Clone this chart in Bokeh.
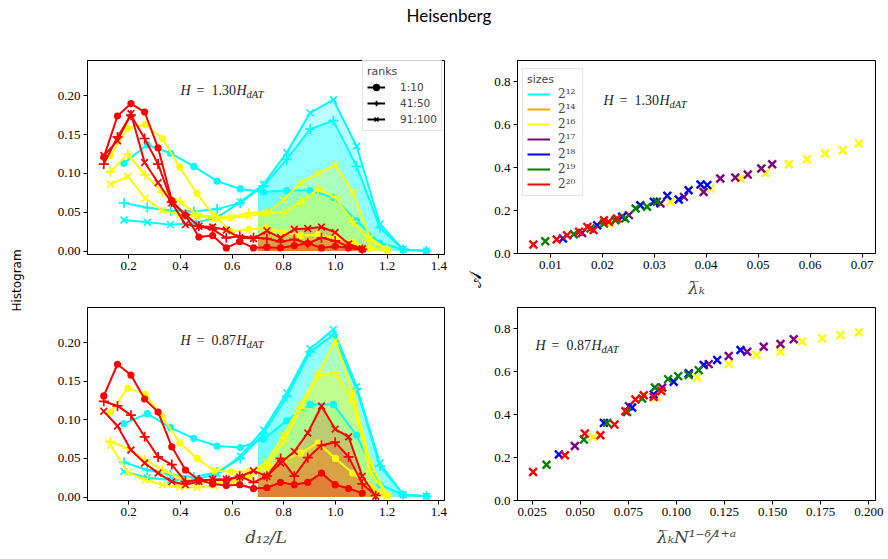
import numpy as np
from bokeh.plotting import figure
from bokeh.models import Range1d, Label, Legend, LegendItem, FixedTicker, NumeralTickFormatter
from bokeh.layouts import row, column
from bokeh.embed import file_html
from bokeh.resources import INLINE
from bokeh.core.properties import value

# ---------------- data: histograms of d12/L ----------------
x_cyan = [0.182, 0.272, 0.362, 0.452, 0.542, 0.632, 0.722, 0.812, 0.902, 0.992, 1.082, 1.172, 1.262, 1.352]
x_yellow = [0.130, 0.197, 0.264, 0.331, 0.398, 0.465, 0.531, 0.598, 0.665, 0.732, 0.799, 0.866, 0.933,
            1.000, 1.067, 1.134, 1.200]
x_red = [0.104, 0.157, 0.209, 0.262, 0.314, 0.367, 0.420, 0.472, 0.525, 0.578, 0.630, 0.683, 0.735,
         0.788, 0.841, 0.893, 0.946, 0.999, 1.051, 1.104, 1.156]

# H = 1.30 H_dAT
cyan_dot_hi = [0.113, 0.137, 0.126, 0.109, 0.090, 0.080, 0.076, 0.078, 0.078, 0.069, 0.039, 0.010, 0.002, 0.000]
cyan_plus_hi = [0.062, 0.056, 0.052, 0.051, 0.054, 0.062, 0.084, 0.118, 0.157, 0.168, 0.109, 0.030, 0.002, 0.000]
cyan_x_hi = [0.040, 0.037, 0.034, 0.036, 0.043, 0.063, 0.086, 0.127, 0.178, 0.195, 0.135, 0.035, 0.002, 0.000]
yellow_dot_hi = [0.123, 0.158, 0.163, 0.145, 0.108, 0.074, 0.045, 0.025, 0.028, 0.030, 0.024, 0.020, 0.021,
                 0.017, 0.011, 0.003, 0.001]
yellow_plus_hi = [0.102, 0.125, 0.098, 0.076, 0.064, 0.047, 0.044, 0.044, 0.049, 0.050, 0.050, 0.063, 0.080,
                  0.069, 0.038, 0.013, 0.002]
yellow_x_hi = [0.086, 0.096, 0.068, 0.052, 0.047, 0.045, 0.042, 0.043, 0.045, 0.049, 0.066, 0.088, 0.100,
               0.111, 0.076, 0.017, 0.002]
red_dot_hi = [0.121, 0.174, 0.190, 0.179, 0.133, 0.065, 0.046, 0.018, 0.020, 0.004, 0.012, 0.004, 0.005,
              0.004, 0.007, 0.010, 0.004, 0.006, 0.004, 0.002]
red_plus_hi = [0.112, 0.147, 0.175, 0.145, 0.112, 0.063, 0.047, 0.032, 0.028, 0.017, 0.019, 0.017, 0.016,
               0.012, 0.015, 0.010, 0.017, 0.013, 0.006, 0.002]
red_x_hi = [0.123, 0.142, 0.177, 0.114, 0.088, 0.062, 0.034, 0.032, 0.031, 0.027, 0.017, 0.016, 0.026,
            0.017, 0.028, 0.029, 0.031, 0.024, 0.009, 0.003]

# H = 0.87 H_dAT
cyan_dot_lo = [0.095, 0.108, 0.090, 0.076, 0.066, 0.064, 0.075, 0.099, 0.120, 0.120, 0.080, 0.016, 0.003, 0.001]
cyan_plus_lo = [0.045, 0.035, 0.029, 0.026, 0.032, 0.050, 0.082, 0.130, 0.188, 0.210, 0.140, 0.040, 0.003, 0.001]
cyan_x_lo = [0.033, 0.025, 0.022, 0.022, 0.030, 0.053, 0.087, 0.135, 0.192, 0.217, 0.143, 0.044, 0.003, 0.001]
yellow_dot_lo = [0.110, 0.141, 0.133, 0.104, 0.070, 0.050, 0.034, 0.033, 0.033, 0.040, 0.048, 0.057, 0.070,
                 0.050, 0.031, 0.013, 0.002]
yellow_plus_lo = [0.072, 0.063, 0.048, 0.035, 0.025, 0.020, 0.018, 0.020, 0.025, 0.040, 0.072, 0.115, 0.158,
                  0.161, 0.125, 0.033, 0.002]
yellow_x_lo = [0.067, 0.032, 0.022, 0.016, 0.013, 0.012, 0.015, 0.022, 0.030, 0.045, 0.080, 0.120, 0.160,
               0.202, 0.136, 0.045, 0.002]
red_dot_lo = [0.131, 0.172, 0.158, 0.127, 0.110, 0.065, 0.035, 0.022, 0.017, 0.015, 0.016, 0.011, 0.012,
              0.019, 0.016, 0.019, 0.031, 0.016, 0.011, 0.005]
red_plus_lo = [0.124, 0.118, 0.106, 0.078, 0.052, 0.042, 0.020, 0.022, 0.022, 0.022, 0.027, 0.019, 0.027,
               0.050, 0.027, 0.051, 0.067, 0.071, 0.052, 0.017, 0.002]
red_x_lo = [0.111, 0.092, 0.061, 0.044, 0.031, 0.020, 0.016, 0.020, 0.023, 0.023, 0.026, 0.034, 0.027,
            0.044, 0.059, 0.083, 0.118, 0.088, 0.078, 0.027, 0.001]

rank_labels = ["1:10", "41:50", "91:100"]
fill_from = 0.7

# ---------------- data: scaling scatter ----------------
tr_red_x = [0.0067, 0.0112, 0.0132, 0.0155, 0.0171, 0.0183, 0.0203, 0.0212, 0.0228]
tr_red_y = [0.042, 0.065, 0.085, 0.101, 0.124, 0.109, 0.155, 0.148, 0.163]
tr_green_x = [0.0090, 0.0145, 0.0177, 0.0203, 0.0225, 0.0244, 0.0264, 0.0286, 0.0305]
tr_green_y = [0.057, 0.090, 0.117, 0.140, 0.155, 0.163, 0.210, 0.218, 0.241]
tr_blue_x = [0.0124, 0.0190, 0.0238, 0.0273, 0.0299, 0.0325, 0.0347, 0.0366, 0.0389, 0.0402]
tr_blue_y = [0.070, 0.132, 0.171, 0.225, 0.241, 0.269, 0.252, 0.295, 0.322, 0.319]
tr_purple_x = [0.0161, 0.0251, 0.0312, 0.0357, 0.0395, 0.0427, 0.0456, 0.0480, 0.0506, 0.0527]
tr_purple_y = [0.096, 0.179, 0.233, 0.264, 0.287, 0.350, 0.354, 0.368, 0.396, 0.416]
tr_yellow_x = [0.0215, 0.0331, 0.0408, 0.0466, 0.0514, 0.0559, 0.0594, 0.0629, 0.0663, 0.0694]
tr_yellow_y = [0.140, 0.241, 0.303, 0.350, 0.376, 0.416, 0.440, 0.466, 0.482, 0.513]

br_red_x = [0.0255, 0.0420, 0.0524, 0.0605, 0.0678, 0.0735, 0.0787, 0.0830, 0.0882, 0.0922]
br_red_y = [0.133, 0.211, 0.312, 0.304, 0.354, 0.416, 0.471, 0.491, 0.483, 0.511]
br_green_x = [0.0325, 0.0519, 0.0640, 0.0744, 0.0822, 0.0888, 0.0957, 0.1009, 0.1064, 0.1116]
br_green_y = [0.167, 0.284, 0.362, 0.413, 0.476, 0.527, 0.566, 0.580, 0.585, 0.608]
br_blue_x = [0.0389, 0.0623, 0.0770, 0.0882, 0.0986, 0.1064, 0.1142, 0.1212, 0.1333]
br_blue_y = [0.215, 0.362, 0.434, 0.494, 0.554, 0.593, 0.632, 0.655, 0.702]
br_purple_x = [0.0472, 0.0753, 0.0926, 0.1168, 0.1272, 0.1368, 0.1454, 0.1541, 0.1610]
br_purple_y = [0.254, 0.440, 0.527, 0.636, 0.674, 0.694, 0.717, 0.730, 0.752]
br_yellow_x = [0.0567, 0.0896, 0.1108, 0.1272, 0.1416, 0.1541, 0.1654, 0.1758, 0.1853, 0.1948]
br_yellow_y = [0.296, 0.483, 0.574, 0.636, 0.678, 0.694, 0.741, 0.756, 0.772, 0.784]

size_labels = ["2¹²", "2¹⁴", "2¹⁶", "2¹⁷", "2¹⁸", "2¹⁹", "2²⁰"]
size_colors = ["cyan", "orange", "yellow", "purple", "blue", "green", "red"]

SERIF = "Liberation Serif"
MSERIF = "DejaVu Serif"
SANS = "DejaVu Sans"
MARKERS = ["circle", "cross", "x"]
MSIZES = [5.5, 10, 9.5]
NAN = [float("nan")]
FILL_ALPHA = {"cyan": 0.25, "yellow": 0.25, "red": 0.2}


def base_fig(w, h, xr, yr, bl, br, bt, bb):
    p = figure(width=w, height=h, x_range=Range1d(*xr), y_range=Range1d(*yr),
               output_backend="svg", toolbar_location=None,
               min_border_left=bl, min_border_right=br, min_border_top=bt, min_border_bottom=bb)
    p.grid.visible = False
    p.outline_line_color = "black"
    p.outline_line_width = 1
    p.background_fill_color = "white"
    p.border_fill_color = "white"
    for ax in [p.xaxis[0], p.yaxis[0]]:
        ax.axis_line_color = "black"
        ax.major_tick_line_color = "black"
        ax.major_tick_out = 4
        ax.major_tick_in = 0
        ax.minor_tick_line_color = None
        ax.major_label_text_font = SERIF
        ax.major_label_text_font_size = "13px"
        ax.major_label_text_color = "black"
        ax.major_label_standoff = 3
        ax.axis_label_text_font = MSERIF
        ax.axis_label_text_font_size = "17px"
        ax.axis_label_text_font_style = "italic"
    return p


def text_fig(w, h):
    p = figure(width=w, height=h, x_range=Range1d(0, 1), y_range=Range1d(0, 1),
               output_backend="svg", toolbar_location=None,
               x_axis_location=None, y_axis_location=None, min_border=0)
    p.grid.visible = False
    p.outline_line_color = None
    return p


def h_label(p, x, y, num):
    parts = [("H", 0, 0, "14px", "italic"), ("=", 16, 0, "14px", "normal"),
             (num, 31, 0, "14px", "normal"), ("H", 56, 0, "14px", "italic"),
             ("dAT", 66, -4, "10.5px", "italic")]
    for txt, dx, dy, fs, st in parts:
        p.add_layout(Label(x=x, y=y, x_offset=dx, y_offset=dy, text=txt, text_font=SERIF,
                           text_font_size=fs, text_font_style=st, text_baseline="middle",
                           text_color="#222222"))


def draw_hist(p, groups):
    for color, xs, curves in groups:
        for ys in curves:
            xa = np.asarray(xs[:len(ys)], dtype=float)
            ya = np.asarray(ys, dtype=float)
            y0 = float(np.interp(fill_from, xa, ya))
            m = xa > fill_from
            fx = np.r_[fill_from, xa[m]]
            fy = np.r_[y0, ya[m]]
            p.varea(x=fx, y1=np.zeros(len(fx)), y2=fy, fill_color=color, fill_alpha=FILL_ALPHA[color])
    for color, xs, curves in groups:
        for ys, mk, sz in zip(curves, MARKERS, MSIZES):
            xa = xs[:len(ys)]
            p.line(xa, ys, line_color=color, line_width=2)
            p.scatter(xa, ys, marker=mk, size=sz, line_color=color, fill_color=color, line_width=1.7)


def hist_axes(p):
    p.xaxis[0].ticker = FixedTicker(ticks=[0.2, 0.4, 0.6, 0.8, 1.0, 1.2, 1.4])
    p.xaxis[0].formatter = NumeralTickFormatter(format="0.0")
    p.yaxis[0].ticker = FixedTicker(ticks=[0.0, 0.05, 0.10, 0.15, 0.20])
    p.yaxis[0].formatter = NumeralTickFormatter(format="0.00")


def draw_scatter(p, sets):
    for color, xs, ys in sets:
        p.scatter(xs, ys, marker="x", size=11, line_color=color, line_width=2.4)


X_HIST = (0.041, 1.422)
Y_HIST = (-0.0045, 0.2455)

# ---------------- top-left ----------------
tl = base_fig(434, 260, X_HIST, Y_HIST, 57, 20, 20, 46)
hist_axes(tl)
draw_hist(tl, [("cyan", x_cyan, [cyan_dot_hi, cyan_plus_hi, cyan_x_hi]),
               ("yellow", x_yellow, [yellow_dot_hi, yellow_plus_hi, yellow_x_hi]),
               ("red", x_red, [red_dot_hi, red_plus_hi, red_x_hi])])
h_label(tl, 0.401, 0.207, "1.30")
items = []
for lab, mk, sz in zip(rank_labels, MARKERS, MSIZES):
    rl = tl.line(NAN, NAN, line_color="black", line_width=2)
    rm = tl.scatter(NAN, NAN, marker=mk, size=sz, line_color="black", fill_color="black", line_width=1.7)
    items.append(LegendItem(label=lab, renderers=[rl, rm]))
leg = Legend(items=items, location=(275, 123), title="ranks",
             title_text_font=SANS, title_text_font_size="11px", title_text_font_style="normal",
             title_standoff=2, label_text_font=SANS, label_text_font_size="10.5px",
             glyph_width=18, glyph_height=14, label_height=14, label_standoff=15, spacing=2,
             padding=4, margin=0, border_line_color="#cccccc", border_line_width=1,
             background_fill_color="white", background_fill_alpha=0.8)
tl.add_layout(leg)

# ---------------- bottom-left ----------------
bl = base_fig(434, 259, X_HIST, Y_HIST, 57, 20, 7, 59)
hist_axes(bl)
draw_hist(bl, [("cyan", x_cyan, [cyan_dot_lo, cyan_plus_lo, cyan_x_lo]),
               ("yellow", x_yellow, [yellow_dot_lo, yellow_plus_lo, yellow_x_lo]),
               ("red", x_red, [red_dot_lo, red_plus_lo, red_x_lo])])
h_label(bl, 0.401, 0.203, "0.87")
bl.xaxis[0].axis_label = "d₁₂/L"
bl.xaxis[0].axis_label_standoff = 8

# ---------------- top-right ----------------
tr = base_fig(404, 260, (0.00365, 0.0726), (0.0, 0.9), 33, 13, 20, 46)
tr.xaxis[0].ticker = FixedTicker(ticks=[0.01, 0.02, 0.03, 0.04, 0.05, 0.06, 0.07])
tr.xaxis[0].formatter = NumeralTickFormatter(format="0.00")
tr.yaxis[0].ticker = FixedTicker(ticks=[0.0, 0.2, 0.4, 0.6, 0.8])
tr.yaxis[0].formatter = NumeralTickFormatter(format="0.0")
draw_scatter(tr, [("yellow", tr_yellow_x, tr_yellow_y), ("purple", tr_purple_x, tr_purple_y),
                  ("blue", tr_blue_x, tr_blue_y), ("green", tr_green_x, tr_green_y),
                  ("red", tr_red_x, tr_red_y)])
h_label(tr, 0.0202, 0.715, "1.30")
tr.xaxis[0].axis_label = "λ̅ₖ"
tr.xaxis[0].axis_label_standoff = 6
sitems = []
for lab, col in zip(size_labels, size_colors):
    r = tr.line(NAN, NAN, line_color=col, line_width=2)
    sitems.append(LegendItem(label=lab, renderers=[r]))
sleg = Legend(items=sitems, location=(5, 57), title="sizes",
              title_text_font=SANS, title_text_font_size="11px", title_text_font_style="normal",
              title_standoff=1, label_text_font=MSERIF, label_text_font_size="12px",
              glyph_width=23, glyph_height=14, label_height=14, label_standoff=8, spacing=1,
              padding=4, margin=0, border_line_color="#cccccc", border_line_width=1,
              background_fill_color="white", background_fill_alpha=0.8)
tr.add_layout(sleg)

# ---------------- bottom-right ----------------
br = base_fig(404, 259, (0.0174, 0.2035), (0.0, 0.9), 33, 13, 7, 59)
br.xaxis[0].ticker = FixedTicker(ticks=[0.025, 0.05, 0.075, 0.1, 0.125, 0.15, 0.175, 0.2])
br.xaxis[0].formatter = NumeralTickFormatter(format="0.000")
br.yaxis[0].ticker = FixedTicker(ticks=[0.0, 0.2, 0.4, 0.6, 0.8])
br.yaxis[0].formatter = NumeralTickFormatter(format="0.0")
draw_scatter(br, [("yellow", br_yellow_x, br_yellow_y), ("purple", br_purple_x, br_purple_y),
                  ("blue", br_blue_x, br_blue_y), ("green", br_green_x, br_green_y),
                  ("red", br_red_x, br_red_y)])
h_label(br, 0.0267, 0.725, "0.87")
br.xaxis[0].axis_label = "λ̅ₖN¹⁻ᵟ⁄¹⁺ᵃ"
br.xaxis[0].axis_label_standoff = 8

# ---------------- text strips ----------------
title_fig = text_fig(888, 40)
title_fig.text(x=[0.505], y=[0.62], text=["Heisenberg"], text_align="center", text_baseline="middle",
               text_font=value("Lato"), text_font_size=value("17px"), text_color="black")

left_lab = text_fig(30, 519)
left_lab.text(x=[0.55], y=[0.5376], text=["Histogram"], angle=np.pi / 2, text_align="center",
              text_baseline="middle", text_font=value(SANS), text_font_size=value("12px"),
              text_color="black")

mid_lab = text_fig(20, 519)
mid_lab.text(x=[0.5], y=[0.5376], text=["𝒜"], angle=np.pi / 2, text_align="center",
             text_baseline="middle", text_font=value(MSERIF), text_font_size=value("17px"),
             text_color="black")

layout = column(title_fig, row(left_lab, column(tl, bl), mid_lab, column(tr, br)))

open("out.html", "w").write(file_html(layout, INLINE))
